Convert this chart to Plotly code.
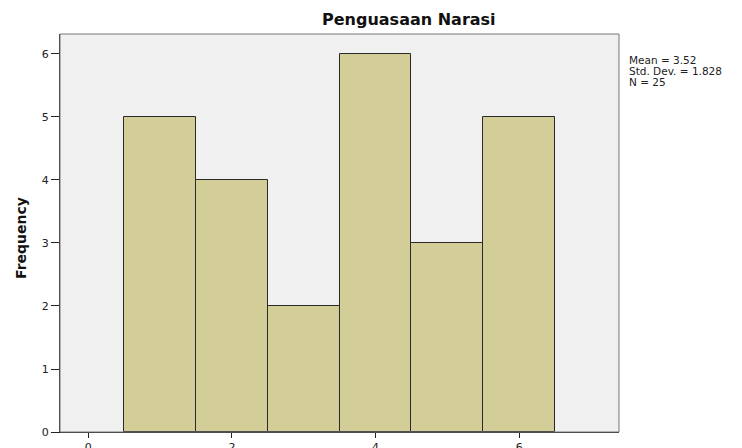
import plotly.graph_objects as go

# Data
bin_centers = [1, 2, 3, 4, 5, 6]
frequencies = [5, 4, 2, 6, 3, 5]
x_ticks = [0, 2, 4, 6]
y_ticks = [0, 1, 2, 3, 4, 5, 6]
stats_lines = ["Mean = 3.52", "Std. Dev. = 1.828", "N = 25"]
title_text = "Penguasaan Narasi"
y_title = "Frequency"

W, H = 742, 448
L, R, T, B = 60, 619, 34, 432
pw, ph = R - L, B - T

fig = go.Figure()
fig.add_trace(go.Bar(
    x=bin_centers, y=frequencies, width=1,
    marker=dict(color="#D3CE98", line=dict(color="#2a2a2a", width=1)),
    hoverinfo="x+y",
))

font = "DejaVu Sans, Liberation Sans, Arial, sans-serif"

fig.update_layout(
    width=W, height=H,
    margin=dict(l=L, r=W - R, t=T, b=H - B, autoexpand=False),
    paper_bgcolor="white", plot_bgcolor="#F0F0F0",
    showlegend=False, bargap=0,
    font=dict(family=font, size=11, color="#222"),
    xaxis=dict(range=[-0.394, 7.39], tickvals=x_ticks, ticks="outside", ticklen=5,
               tickcolor="#222", showgrid=False, zeroline=False, showline=True,
               linecolor="#222", linewidth=1, tickfont=dict(size=11), automargin=False),
    yaxis=dict(range=[0, 6.317], tickvals=y_ticks, ticks="outside", ticklen=8,
               tickcolor="#222", showgrid=False, zeroline=False, showline=True,
               linecolor="#222", linewidth=1, tickfont=dict(size=11), automargin=False),
)

# frame (gray top/right)
fig.add_shape(type="rect", xref="paper", yref="paper", x0=0, y0=0, x1=1, y1=1,
              line=dict(color="#777", width=1), layer="above")

fig.add_annotation(text="<b>" + title_text + "</b>", xref="paper", yref="paper",
                   x=(409 - L) / pw, y=1 + (T - 19) / ph, xanchor="center", yanchor="middle",
                   showarrow=False, font=dict(size=16, color="#111", family=font))
fig.add_annotation(text="<b>" + y_title + "</b>", xref="paper", yref="paper",
                   x=(21 - L) / pw, y=(B - 238) / ph, xanchor="center", yanchor="middle",
                   textangle=-90, showarrow=False, font=dict(size=14, color="#111", family=font))
for i, line in enumerate(stats_lines):
    yc = 60 + i * 11
    fig.add_annotation(text=line, xref="paper", yref="paper",
                       x=(627 - L) / pw, y=(B - yc) / ph, xanchor="left", yanchor="middle",
                       showarrow=False, font=dict(size=10.5, color="#222", family=font))

fig.write_html("out.html", config={"displayModeBar": False},
               post_script="document.body.style.margin='0';")
